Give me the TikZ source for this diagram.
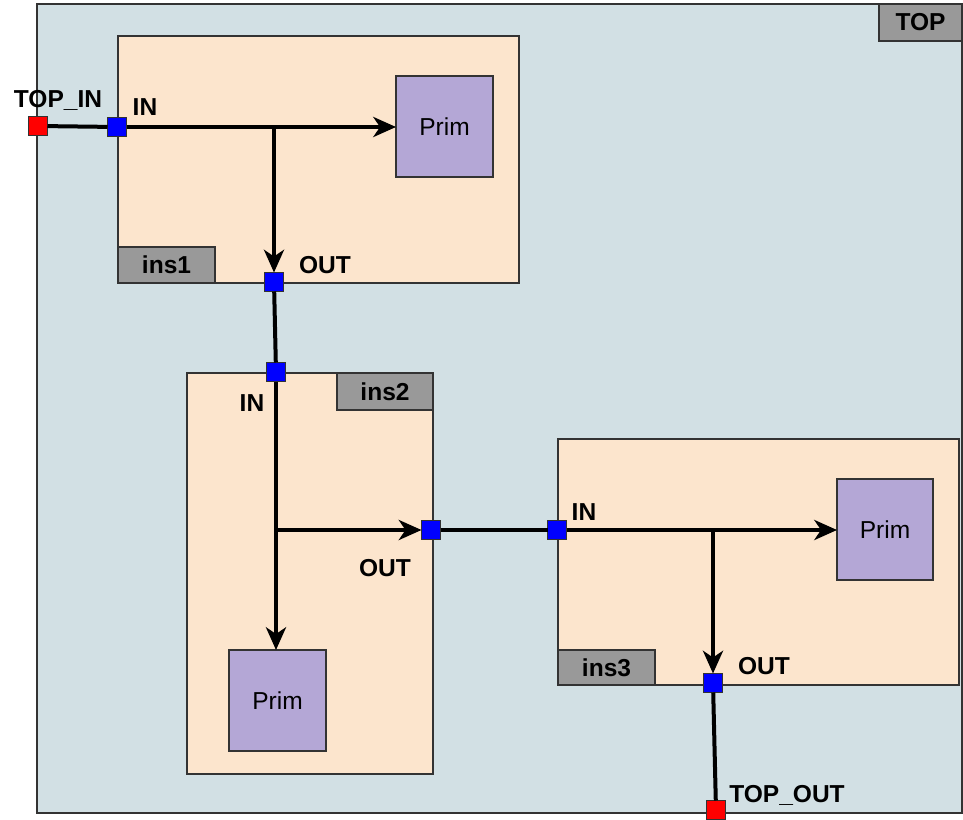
\documentclass[tikz,border=0pt]{standalone}
\usepackage{fontspec}
\setmainfont{Liberation Sans}
\usetikzlibrary{arrows.meta}
\definecolor{topbg}{HTML}{D2E0E4}
\definecolor{peach}{HTML}{FCE5CD}
\definecolor{prim}{HTML}{B4A7D6}
\definecolor{lblgray}{HTML}{999999}
\definecolor{edge}{HTML}{333333}
\tikzset{
  box/.style={draw=edge, line width=0.9pt, anchor=north west, inner sep=0pt, outer sep=0pt},
  container/.style={box, fill=peach},
  primbox/.style={box, fill=prim, font=\fontsize{18.4}{22}\selectfont},
  lblbox/.style={box, fill=lblgray, font=\bfseries\fontsize{18.4}{22}\selectfont},
  port/.style={draw=edge, line width=0.6pt, minimum size=14.25pt, inner sep=0pt, outer sep=0pt},
  inport/.style={port, fill=blue},
  extport/.style={port, fill=red},
  plabel/.style={font=\bfseries\fontsize{18.4}{22}\selectfont, inner sep=0pt},
  wire/.style={line width=3pt},
  arrowwire/.style={wire, -{Stealth[length=17pt, width=15pt, inset=5pt]}},
}
\begin{document}
\begin{tikzpicture}[x=0.75pt, y=-0.75pt]
\useasboundingbox (0,0) rectangle (963,820);
% outer TOP
\node[box, fill=topbg, minimum width=693.75pt, minimum height=606.75pt] (top) at (37,4) {};
\node[lblbox, minimum width=62.25pt, minimum height=27.75pt] (toplbl) at (879,4) {TOP};
% ins1
\node[container, minimum width=300.75pt, minimum height=185.25pt] (ins1) at (118,36) {};
\node[primbox, minimum width=72.75pt, minimum height=75.75pt] (prim1) at (396,76) {Prim};
\node[lblbox, minimum width=72.75pt, minimum height=27pt] (ins1lbl) at (118,247) {ins1};
% ins2
\node[container, minimum width=184.5pt, minimum height=300.75pt] (ins2) at (187,373) {};
\node[lblbox, minimum width=72pt, minimum height=27.75pt] (ins2lbl) at (337,373) {ins2};
\node[primbox, minimum width=72.75pt, minimum height=75.75pt] (prim2) at (229,650) {Prim};
% ins3
\node[container, minimum width=300.75pt, minimum height=184.5pt] (ins3) at (558,439) {};
\node[primbox, minimum width=72pt, minimum height=75.75pt] (prim3) at (837,479) {Prim};
\node[lblbox, minimum width=72.75pt, minimum height=26.25pt] (ins3lbl) at (558,650) {ins3};
% ports
\node[extport] (topin) at (38,126) {};
\node[inport] (in1) at (117,127) {};
\node[inport] (out1) at (274,282) {};
\node[inport] (in2) at (276,372) {};
\node[inport] (out2) at (431,530) {};
\node[inport] (in3) at (557,530) {};
\node[inport] (out3) at (713,683) {};
\node[extport] (topout) at (716,810) {};
% junctions
\coordinate (j1) at (274,127);
\coordinate (j2) at (276,530);
\coordinate (j3) at (713,530);
% wires
\draw[wire] (topin) -- (in1);
\draw[arrowwire] (in1) -- (prim1.west |- in1);
\draw[arrowwire] (j1) -- (out1.north);
\draw[wire] (out1) -- (in2);
\draw[arrowwire] (in2) -- (in2 |- prim2.north);
\draw[arrowwire] (j2) -- (out2.west);
\draw[wire] (out2) -- (in3);
\draw[arrowwire] (in3) -- (prim3.west |- in3);
\draw[arrowwire] (j3) -- (out3.north);
\draw[wire] (out3) -- (topout);
% port labels
\node[plabel] (topinlbl) at (58,100) {TOP\_IN};
\node[plabel] (in1lbl) at (145,107) {IN};
\node[plabel] (out1lbl) at (325,265) {OUT};
\node[plabel] (in2lbl) at (252,403) {IN};
\node[plabel] (out2lbl) at (385,568) {OUT};
\node[plabel] (in3lbl) at (584,512) {IN};
\node[plabel] (out3lbl) at (764,666) {OUT};
\node[plabel] (topoutlbl) at (787,795) {TOP\_OUT};
\end{tikzpicture}
\end{document}
